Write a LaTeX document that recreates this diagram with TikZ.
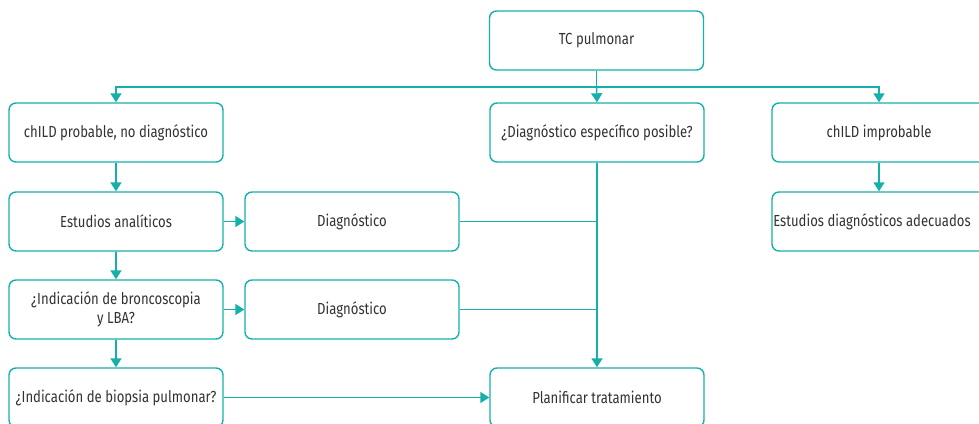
\documentclass[tikz,border=0pt]{standalone}
\usepackage{fontspec}
\setmainfont{Fira Sans}[FakeStretch=0.82]
\usetikzlibrary{arrows.meta}
\definecolor{teal1}{RGB}{22,176,170}
\definecolor{txt}{RGB}{50,50,50}
\begin{document}
\begin{tikzpicture}[x=1pt,y=-1pt,
  box/.style={draw=teal1,line width=1.4pt,rounded corners=7pt,minimum width=214pt,minimum height=59pt,
    text=txt,align=center,inner sep=2pt,font=\fontsize{16}{19}\selectfont},
  conn/.style={draw=teal1,line width=1.4pt},
  arr/.style={conn,-{Triangle[width=11pt,length=9pt]}}]
\useasboundingbox (0,0) rectangle (979,423);
\clip (0,0) rectangle (979,423);
\node[box] (tc) at (596.5,40.5) {TC pulmonar};
\node[box] (cp) at (116,132.5) {chILD probable, no diagnóstico};
\node[box] (de) at (597,132.5) {¿Diagnóstico específico posible?};
\node[box] (ci) at (879,132.5) {chILD improbable};
\node[box] (ea) at (116,221.5) {Estudios analíticos};
\node[box] (d1) at (352,221.5) {Diagnóstico};
\node[box] (ed) at (879,221.5) {\hspace*{-14pt}Estudios diagnósticos adecuados};
\node[box] (br) at (116,309.5) {¿Indicación de broncoscopia\\y LBA?};
\node[box] (d2) at (352,309.5) {Diagnóstico};
\node[box] (bp) at (116,397.5) {¿Indicación de biopsia pulmonar?};
\node[box] (pt) at (597,397.5) {Planificar tratamiento};
\coordinate (split) at (596.5,87);
\draw[conn] (tc.south) -- (split);
\draw[arr] (split) -| (cp.north);
\draw[arr] (split) -| (ci.north);
\draw[arr] (split) -- (de.north);
\draw[arr] (cp) -- (ea);
\draw[arr] (ea) -- (br);
\draw[arr] (br) -- (bp);
\draw[arr] (ea) -- (d1);
\draw[arr] (br) -- (d2);
\draw[arr] (ci) -- (ed);
\draw[arr] (bp) -- (pt);
\draw[arr] (de) -- (pt);
\draw[conn] (d1.east) -- (d1.east -| de.south);
\draw[conn] (d2.east) -- (d2.east -| de.south);
\end{tikzpicture}
\end{document}
